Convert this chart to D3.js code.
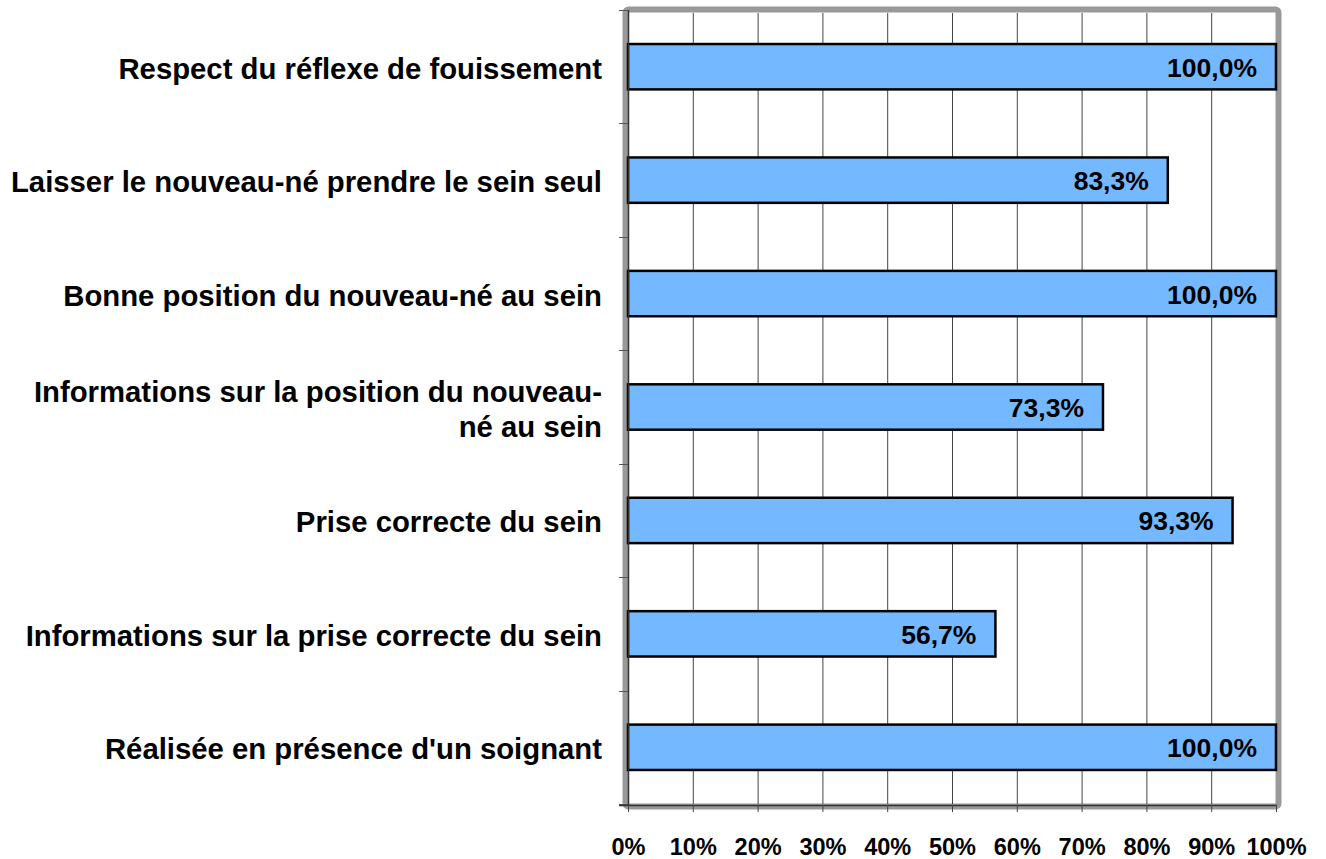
<!DOCTYPE html>
<html><head><meta charset="utf-8">
<script src="https://cdn.jsdelivr.net/npm/d3@7"></script>
<style>body{margin:0;background:#fff}svg{display:block}text{font-family:"Liberation Sans",Arial,sans-serif;font-weight:bold;fill:#000}</style>
</head><body><svg id="c" width="1326" height="859"></svg>
<script>
const categories = [
  "Respect du réflexe de fouissement",
  "Laisser le nouveau-né prendre le sein seul",
  "Bonne position du nouveau-né au sein",
  "Informations sur la position du nouveau-né au sein",
  "Prise correcte du sein",
  "Informations sur la prise correcte du sein",
  "Réalisée en présence d'un soignant"
];
const values = [100.0, 83.3, 100.0, 73.3, 93.3, 56.7, 100.0];
const xTicks = [0,10,20,30,40,50,60,70,80,90,100];

const svg = d3.select("#c");
const L=628, R=1276, T=10, B=804;
const x = d3.scaleLinear().domain([0,100]).range([L,R]);
const y = d3.scaleBand().domain(categories).range([T,B]).paddingInner(0.6).paddingOuter(0.3);
const fmt = v => v.toFixed(1).replace(".", ",") + "%";

// gray frame (3D wall look)
svg.append("rect").attr("x",L-2.5).attr("y",T-0.5).attr("width",R-L+5).attr("height",B-T+3)
  .attr("fill","#fff").attr("stroke","#999").attr("stroke-width",6).attr("rx",3);

// gridlines
svg.append("g").selectAll("line").data(xTicks.slice(1,-1)).join("line")
  .attr("x1",d=>x(d)+0.5).attr("x2",d=>x(d)+0.5).attr("y1",T+3).attr("y2",B)
  .attr("stroke","#444").attr("stroke-width",1);

// bars
svg.append("g").selectAll("rect").data(values).join("rect")
  .attr("x",x(0)).attr("y",(d,i)=>y(categories[i]))
  .attr("width",d=>x(d)-x(0)).attr("height",y.bandwidth())
  .attr("fill","#74B9FF").attr("stroke","#000").attr("stroke-width",2.5);

// value labels
svg.append("g").selectAll("text").data(values).join("text")
  .attr("x",d=>x(d)-19).attr("y",(d,i)=>y(categories[i])+y.bandwidth()/2+10)
  .attr("text-anchor","end").style("font-size","26.5px").text(d=>fmt(d));

// y axis
svg.append("line").attr("x1",L+0.5).attr("x2",L+0.5).attr("y1",T).attr("y2",B+1)
  .attr("stroke","#333").attr("stroke-width",1.5);
const bounds = categories.map(c=>y(c)-y.step()*0.3).concat([B]);
svg.append("g").selectAll("line").data(bounds).join("line")
  .attr("x1",L-9).attr("x2",L).attr("y1",d=>Math.round(d)+0.5).attr("y2",d=>Math.round(d)+0.5)
  .attr("stroke","#555").attr("stroke-width",1);

// x axis
svg.append("line").attr("x1",L-9).attr("x2",R+1).attr("y1",B+1.5).attr("y2",B+1.5)
  .attr("stroke","#333").attr("stroke-width",1.5);
const xa = svg.append("g").attr("transform",`translate(0,${B+1})`)
  .call(d3.axisBottom(x).tickValues(xTicks).tickSize(7).tickPadding(26).tickFormat(d=>d+"%"));
xa.select(".domain").remove();
xa.selectAll(".tick line").attr("stroke","#444");
xa.selectAll("text").style("font-size","23.5px").style("font-family",'"Liberation Sans",Arial,sans-serif').style("font-weight","bold").attr("fill","#000");

// category labels with wrapping
const maxW = 600, lh = 35;
const lg = svg.append("g");
categories.forEach(c=>{
  const cy = y(c)+y.bandwidth()/2;
  const parts = []; let re=/([^\s-]+-?)(\s*)/g, m;
  while((m=re.exec(c))!==null){ if(!m[0]) break; parts.push({w:m[1], sp:m[2].length>0}); }
  const t = lg.append("text").attr("text-anchor","end").style("font-size","29.3px").attr("x",602);
  const lines=[]; let cur="";
  const meas = s=>{t.text(s); return t.node().getComputedTextLength();};
  parts.forEach((p,i)=>{
    const prev = i>0 && parts[i-1].sp ? " " : "";
    const cand = cur ? cur + prev + p.w : p.w;
    if(cur && meas(cand) > maxW){ lines.push(cur); cur = p.w; } else cur = cand;
  });
  if(cur) lines.push(cur);
  t.text(null);
  const y0 = cy + 12 - (lines.length-1)*lh/2;
  lines.forEach((ln,k)=>t.append("tspan").attr("x",602).attr("y",y0+k*lh).text(ln));
});
</script></body></html>
